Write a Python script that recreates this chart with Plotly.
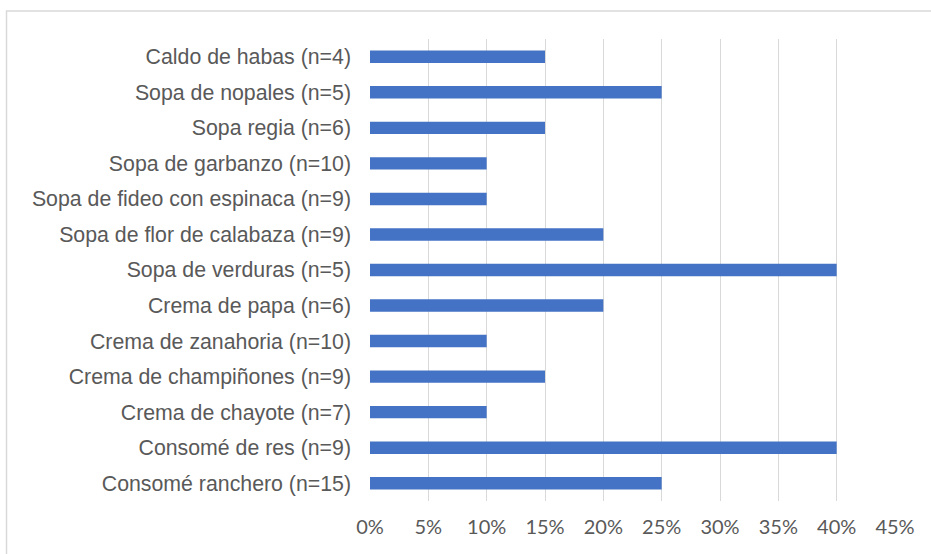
import plotly.graph_objects as go

categories = [
    "Caldo de habas (n=4)",
    "Sopa de nopales (n=5)",
    "Sopa regia (n=6)",
    "Sopa de garbanzo (n=10)",
    "Sopa de fideo con espinaca (n=9)",
    "Sopa de flor de calabaza (n=9)",
    "Sopa de verduras (n=5)",
    "Crema de papa (n=6)",
    "Crema de zanahoria (n=10)",
    "Crema de champiñones (n=9)",
    "Crema de chayote (n=7)",
    "Consomé de res (n=9)",
    "Consomé ranchero (n=15)",
]
values = [0.15, 0.25, 0.15, 0.10, 0.10, 0.20, 0.40, 0.20, 0.10, 0.15, 0.10, 0.40, 0.25]
tick_vals = [0, 0.05, 0.10, 0.15, 0.20, 0.25, 0.30, 0.35, 0.40, 0.45]
tick_text = ["0%", "5%", "10%", "15%", "20%", "25%", "30%", "35%", "40%", "45%"]

W, H = 931, 554
L, R, T, B = 370, 36, 39, 53
pw, ph = W - L - R, H - T - B

fig = go.Figure(go.Bar(
    x=values, y=categories, orientation="h",
    marker=dict(color="#4472C4", line=dict(width=0)),
    width=0.35,
))

fig.update_layout(
    width=W, height=H,
    margin=dict(l=L, r=R, t=T, b=B, pad=0),
    paper_bgcolor="white", plot_bgcolor="white",
    showlegend=False,
    xaxis=dict(
        range=[0, 0.45], tickvals=tick_vals, ticktext=tick_text,
        showgrid=True, gridcolor="#D9D9D9", gridwidth=1,
        zeroline=False, showline=False, ticks="",
        tickfont=dict(family="Lato", size=20, color="#595959"),
        ticklabelstandoff=12,
    ),
    yaxis=dict(
        categoryorder="array", categoryarray=categories[::-1],
        showgrid=False, zeroline=False, showline=False, ticks="",
        tickfont=dict(family="Liberation Sans, Arial", size=21.3, color="#595959"),
        ticklabelstandoff=18,
    ),
    shapes=[
        dict(type="rect", xref="paper", yref="paper",
             x0=(6.5 - L) / pw, x1=(W + 20 - L) / pw,
             y0=-(B + 20) / ph, y1=(H - B - 11) / ph,
             line=dict(color="#D9D9D9", width=1.5), fillcolor="rgba(0,0,0,0)",
             layer="below"),
    ],
)

fig.write_html("out.html")
